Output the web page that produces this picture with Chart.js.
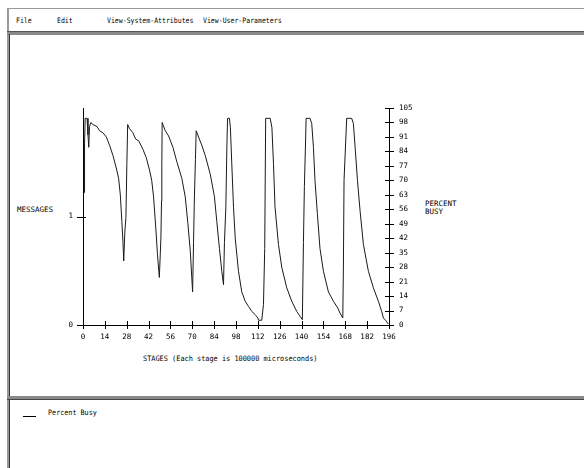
<!DOCTYPE html>
<html>
<head>
<meta charset="utf-8">
<script src="https://cdn.jsdelivr.net/npm/chart.js@4.4.1/dist/chart.umd.min.js"></script>
<style>
  html, body { margin: 0; padding: 0; background: #fff; }
  body {
    width: 584px; height: 468px; position: relative; overflow: hidden;
    font-family: "DejaVu Sans Mono", monospace; font-size: 7.5px; color: #000;
  }
  .txt { position: absolute; white-space: nowrap; line-height: 8px; transform-origin: 0 50%; }
  .narrow { transform: scaleX(0.87); }
  .bar { position: absolute; }
  #chart { position: absolute; left: 0; top: 0; }
</style>
</head>
<body>
  <!-- window frame -->
  <div class="bar" style="left:7px; top:8px; width:2px; height:460px; background:#9a9a9a"></div>
  <div class="bar" style="left:7px; top:8px; right:0; height:1px; background:#9a9a9a"></div>
  <div class="bar" style="left:7px; top:31px; right:0; height:3px; background:#8a8a8a; border-top:1px solid #555"></div>
  <div class="bar" style="left:9px; top:34px; width:1px; height:363px; background:#333"></div>
  <div class="bar" style="left:7px; top:396px; right:0; height:3px; background:#8a8a8a; border-bottom:1px solid #444"></div>
  <div class="bar" style="left:9px; top:400px; width:1px; height:68px; background:#333"></div>

  <!-- menu -->
  <div class="txt narrow" style="left:16px; top:17px">File</div>
  <div class="txt narrow" style="left:57px; top:17px">Edit</div>
  <div class="txt narrow" style="left:107px; top:17px">View-System-Attributes</div>
  <div class="txt narrow" style="left:203px; top:17px">View-User-Parameters</div>

  <!-- axis titles -->
  <div class="txt" style="left:17px; top:206px">MESSAGES</div>
  <div class="txt" style="left:425px; top:200px">PERCENT</div>
  <div class="txt" style="left:425px; top:208px">BUSY</div>
  <div class="txt" style="left:143px; top:355px; transform:scaleX(0.92)">STAGES (Each stage is 100000 microseconds)</div>

  <!-- legend -->
  <div class="bar" style="left:23px; top:416px; width:13px; height:1px; background:#000"></div>
  <div class="txt" style="left:48px; top:409px; transform:scaleX(0.9)">Percent Busy</div>

  <canvas id="chart" width="584" height="468"></canvas>

<script>
// ---------- Data ----------
const stages = [
  0.8, 1, 1.4, 2.6, 3.2, 3.7, 4.2, 5, 6.4, 9, 10.6, 12.8, 14.9, 17, 19.2, 21.3, 22.8, 23.9, 24.9, 25.6,
  26.1, 26.8, 27.5, 28.1, 28.6, 29.8, 32, 33.7, 35.8, 38.4, 40.5, 42.6, 44, 45.2, 46.7, 47.7, 48.9, 49.9,
  50.3, 50.5, 50.7, 52.7, 54.8, 57.6, 60.1, 63.3, 65.5, 67.2, 68.7, 70.2, 70.8, 71.3, 72, 72.5, 74, 76.1,
  78.3, 81.5, 84.2, 85.7, 87.4, 88.9, 90, 90.6, 91.5, 92.2, 92.6, 93.8, 94.4, 95.3, 96.4, 97.5, 99.6,
  101.7, 103.9, 106, 108.1, 110.3, 112, 112.4, 114.5, 115.6, 116.4, 117, 119.9, 121, 122, 123, 125.2,
  127.3, 130.5, 133.7, 136.9, 139, 140.5, 141.2, 141.8, 142.6, 142.9, 145.4, 146.5, 147.6, 148.6, 150.1,
  151.8, 154, 157.2, 160.4, 163.2, 164.6, 166.4, 166.8, 167.2, 168.9, 172.1, 173.2, 174.3, 175.8, 177.5,
  179.6, 182.8, 186, 189.2, 191.3, 192.4, 194.1, 195.5
];
const percentBusy = [
  64, 88, 100, 100, 92, 86, 96, 98, 97, 96, 94, 93, 91, 87, 82, 76, 71, 63, 50, 40,
  31, 45, 52, 78, 97, 95, 93, 90, 89, 85, 81, 75, 70, 62, 46, 34, 23, 42,
  60, 78, 98, 94, 91.5, 86, 79, 71, 62, 49, 36, 16, 40, 60, 80, 94, 91, 87,
  82, 73, 62, 50, 37, 26, 19.5, 40, 57, 88, 100, 100, 95.5, 78, 57, 42, 26,
  16, 11.5, 9, 6.6, 5, 3.4, 2.3, 2.3, 10, 37, 100, 100, 95.5, 78, 57, 39,
  28, 18, 11.5, 6.6, 4.2, 2.6, 40, 67, 90, 100, 100, 97.5, 86, 70, 54,
  37, 26, 16, 11.5, 8.2, 5.8, 3.4, 29, 70, 100, 100, 97.5, 86, 70, 55,
  39, 26, 18, 11.5, 6.6, 3.4, 2, 0.5
];
const stageTicks = [0, 14, 28, 42, 56, 70, 84, 98, 112, 126, 140, 154, 168, 182, 196];
const percentTicks = [0, 7, 14, 21, 28, 35, 42, 49, 56, 63, 70, 77, 84, 91, 98, 105];
const messageTicks = [0, 1];

const FONT = { family: '"DejaVu Sans Mono", monospace', size: 7.5 };

// ---------- Plot box ----------
const PLOT = { left: 83, right: 389, top: 108, bottom: 325 };

// ticks that cross the axis line, like the original plot
const crossTicks = {
  id: 'crossTicks',
  afterDraw(chart) {
    const ctx = chart.ctx;
    const sx = chart.scales.x, sy = chart.scales.y, sm = chart.scales.msg;
    ctx.save();
    ctx.strokeStyle = '#000';
    ctx.lineWidth = 1;
    ctx.beginPath();
    for (const t of sx.ticks) {
      const px = Math.round(sx.getPixelForValue(t.value)) + 0.5;
      ctx.moveTo(px, sx.top - 4);
      ctx.lineTo(px, sx.top + 4);
    }
    for (const t of sy.ticks) {
      const py = Math.round(sy.getPixelForValue(t.value)) + 0.5;
      ctx.moveTo(sy.left - 4, py);
      ctx.lineTo(sy.left + 5, py);
    }
    for (const t of sm.ticks) {
      const py = Math.round(sm.getPixelForValue(t.value)) + 0.5;
      ctx.moveTo(sm.right - 6, py);
      ctx.lineTo(sm.right + 3, py);
    }
    ctx.stroke();
    ctx.restore();
  }
};

new Chart(document.getElementById('chart'), {
  type: 'line',
  data: {
    datasets: [{
      label: 'Percent Busy',
      data: stages.map((s, i) => ({ x: s, y: percentBusy[i] })),
      yAxisID: 'y',
      borderColor: '#1a1a1a',
      borderWidth: 1,
      pointRadius: 0,
      tension: 0,
      fill: false
    }]
  },
  options: {
    responsive: false,
    animation: false,
    layout: { padding: { top: PLOT.top, left: 0, right: 0, bottom: 0 } },
    plugins: { legend: { display: false }, tooltip: { enabled: false } },
    scales: {
      x: {
        type: 'linear',
        min: 0, max: 196,
        afterBuildTicks: (s) => { s.ticks = stageTicks.map((v) => ({ value: v })); },
        afterFit: (s) => { s.height = 468 - PLOT.bottom; },
        grid: { display: false, drawTicks: false },
        border: { display: true, color: '#000', width: 1 },
        ticks: { color: '#000', font: FONT, padding: 8, maxRotation: 0, autoSkip: false }
      },
      msg: {
        type: 'linear',
        position: 'left',
        min: 0, max: 2,
        afterBuildTicks: (s) => { s.ticks = messageTicks.map((v) => ({ value: v })); },
        afterFit: (s) => { s.width = PLOT.left; },
        grid: { display: false, drawTicks: false },
        border: { display: true, color: '#000', width: 1 },
        ticks: { color: '#000', font: FONT, padding: 10 }
      },
      y: {
        type: 'linear',
        position: 'right',
        min: 0, max: 105,
        afterBuildTicks: (s) => { s.ticks = percentTicks.map((v) => ({ value: v })); },
        afterFit: (s) => { s.width = 584 - PLOT.right; },
        grid: { display: false, drawTicks: false },
        border: { display: true, color: '#000', width: 1 },
        ticks: { color: '#000', font: FONT, padding: 10, autoSkip: false }
      }
    }
  },
  plugins: [crossTicks]
});
</script>
</body>
</html>
